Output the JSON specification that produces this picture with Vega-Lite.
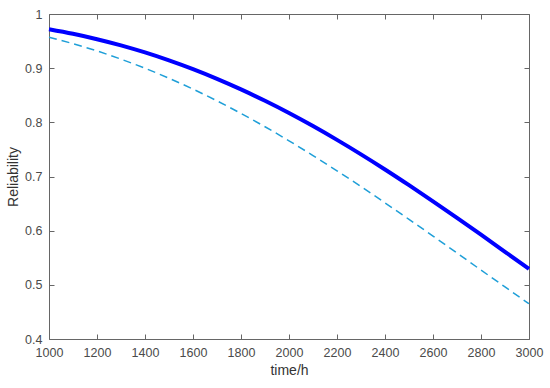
{
  "$schema": "https://vega.github.io/schema/vega-lite/v6.json",
  "width": 480,
  "height": 325,
  "autosize": {"type": "none"},
  "padding": {"left": 49, "top": 14, "right": 21, "bottom": 49},
  "background": "white",
  "config": {
    "view": {"stroke": null},
    "axis": {
      "grid": false,
      "domainColor": "#666666",
      "tickColor": "#666666",
      "labelColor": "#4a4a4a",
      "titleColor": "#333333",
      "labelFont": "Liberation Sans",
      "titleFont": "Liberation Sans",
      "labelFontSize": 12.5,
      "titleFontSize": 14,
      "titleFontWeight": "normal",
      "tickSize": -5,
      "domainWidth": 1,
      "tickWidth": 1
    }
  },
  "datasets": {
    "curves": [
      {"t": 1000, "R": 0.972, "series": "solid"},
      {"t": 1100, "R": 0.9635, "series": "solid"},
      {"t": 1200, "R": 0.9535, "series": "solid"},
      {"t": 1300, "R": 0.9421, "series": "solid"},
      {"t": 1400, "R": 0.929, "series": "solid"},
      {"t": 1500, "R": 0.9144, "series": "solid"},
      {"t": 1600, "R": 0.8982, "series": "solid"},
      {"t": 1700, "R": 0.8803, "series": "solid"},
      {"t": 1800, "R": 0.8608, "series": "solid"},
      {"t": 1900, "R": 0.8397, "series": "solid"},
      {"t": 2000, "R": 0.8172, "series": "solid"},
      {"t": 2100, "R": 0.7931, "series": "solid"},
      {"t": 2200, "R": 0.7676, "series": "solid"},
      {"t": 2300, "R": 0.7409, "series": "solid"},
      {"t": 2400, "R": 0.713, "series": "solid"},
      {"t": 2500, "R": 0.684, "series": "solid"},
      {"t": 2600, "R": 0.6542, "series": "solid"},
      {"t": 2700, "R": 0.6237, "series": "solid"},
      {"t": 2800, "R": 0.5926, "series": "solid"},
      {"t": 2900, "R": 0.561, "series": "solid"},
      {"t": 3000, "R": 0.5293, "series": "solid"},
      {"t": 1000, "R": 0.957, "series": "dashed"},
      {"t": 1100, "R": 0.9452, "series": "dashed"},
      {"t": 1200, "R": 0.9318, "series": "dashed"},
      {"t": 1300, "R": 0.9166, "series": "dashed"},
      {"t": 1400, "R": 0.8998, "series": "dashed"},
      {"t": 1500, "R": 0.8814, "series": "dashed"},
      {"t": 1600, "R": 0.8613, "series": "dashed"},
      {"t": 1700, "R": 0.8396, "series": "dashed"},
      {"t": 1800, "R": 0.8164, "series": "dashed"},
      {"t": 1900, "R": 0.7918, "series": "dashed"},
      {"t": 2000, "R": 0.7659, "series": "dashed"},
      {"t": 2100, "R": 0.7387, "series": "dashed"},
      {"t": 2200, "R": 0.7105, "series": "dashed"},
      {"t": 2300, "R": 0.6814, "series": "dashed"},
      {"t": 2400, "R": 0.6514, "series": "dashed"},
      {"t": 2500, "R": 0.6209, "series": "dashed"},
      {"t": 2600, "R": 0.59, "series": "dashed"},
      {"t": 2700, "R": 0.5587, "series": "dashed"},
      {"t": 2800, "R": 0.5273, "series": "dashed"},
      {"t": 2900, "R": 0.4961, "series": "dashed"},
      {"t": 3000, "R": 0.4651, "series": "dashed"}
    ]
  },
  "data": {"name": "curves"},
  "resolve": {"axis": {"x": "independent", "y": "independent"}},
  "layer": [
    {
      "transform": [{"filter": "datum.series == 'dashed'"}],
      "mark": {"type": "line", "color": "#1f9fd8", "strokeWidth": 1.5, "strokeDash": [8, 5], "interpolate": "monotone"},
      "encoding": {
        "x": {"field": "t", "type": "quantitative", "scale": {"domain": [1000, 3000], "nice": false},
          "axis": {"title": "time/h", "values": [1000, 1200, 1400, 1600, 1800, 2000, 2200, 2400, 2600, 2800, 3000], "format": "d", "labelPadding": 12, "titlePadding": 5, "labelFlush": false, "labelOverlap": false}},
        "y": {"field": "R", "type": "quantitative", "scale": {"domain": [0.4, 1], "nice": false, "zero": false},
          "axis": {"title": "Reliability", "values": [0.4, 0.5, 0.6, 0.7, 0.8, 0.9, 1], "labelExpr": "datum.value == 1 ? '1' : format(datum.value, '.1f')", "labelPadding": 12, "titlePadding": 4, "labelFlush": false, "labelOverlap": false}}
      }
    },
    {
      "transform": [{"filter": "datum.series == 'solid'"}],
      "mark": {"type": "line", "color": "#0000ff", "strokeWidth": 4, "interpolate": "monotone"},
      "encoding": {
        "x": {"field": "t", "type": "quantitative", "scale": {"domain": [1000, 3000], "nice": false},
          "axis": {"orient": "top", "title": null, "labels": false, "values": [1000, 1200, 1400, 1600, 1800, 2000, 2200, 2400, 2600, 2800, 3000]}},
        "y": {"field": "R", "type": "quantitative", "scale": {"domain": [0.4, 1], "nice": false, "zero": false},
          "axis": {"orient": "right", "title": null, "labels": false, "values": [0.4, 0.5, 0.6, 0.7, 0.8, 0.9, 1]}}
      }
    }
  ]
}
